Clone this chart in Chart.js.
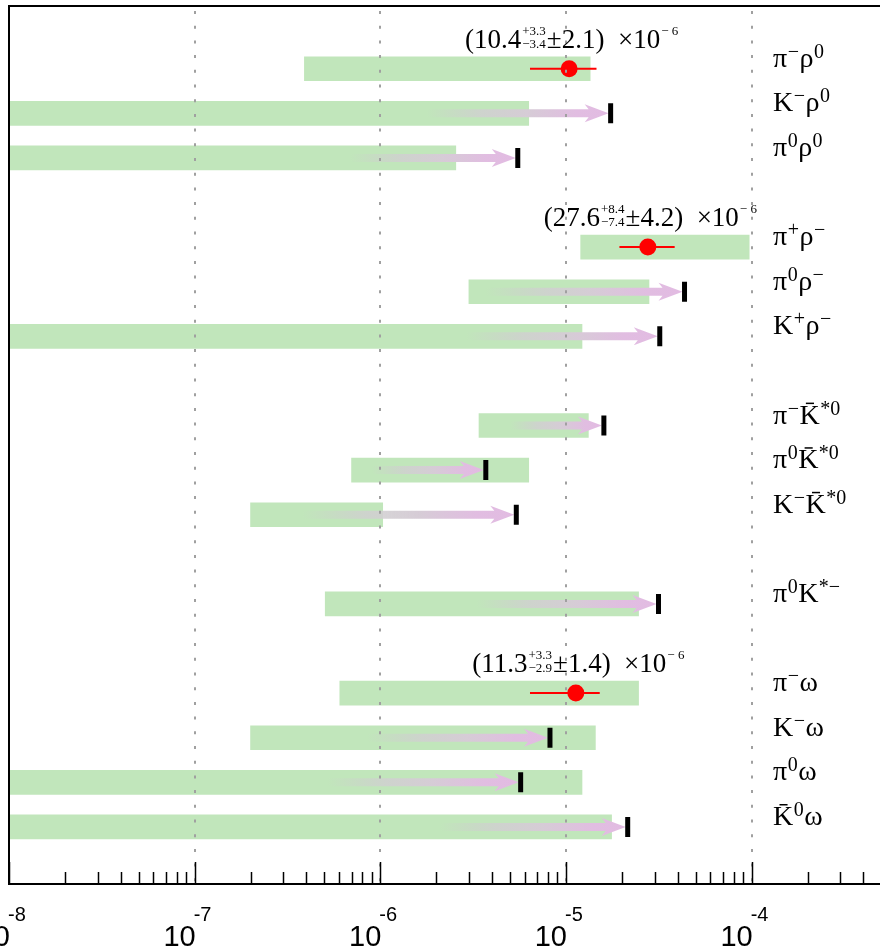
<!DOCTYPE html>
<html>
<head>
<meta charset="utf-8">
<script src="https://cdn.jsdelivr.net/npm/chart.js@4.4.1/dist/chart.umd.min.js"></script>
<style>
  html, body { margin: 0; padding: 0; background: #fff; overflow: hidden; width: 880px; height: 949px; }
  #wrap { position: absolute; left: -40px; top: 0; width: 1020px; height: 949px; }
</style>
</head>
<body>
<div id="wrap"><canvas id="c" width="1020" height="949"></canvas></div>
<script>
// Decay modes, one per row; the row number counts from the top (empty rows separate the groups)
const decays = [
  "π^{−}ρ^{0}", "K^{−}ρ^{0}", "π^{0}ρ^{0}",
  "π^{+}ρ^{−}", "π^{0}ρ^{−}", "K^{+}ρ^{−}",
  "π^{−}#bar{K}^{*0}", "π^{0}#bar{K}^{*0}", "K^{−}#bar{K}^{*0}",
  "π^{0}K^{*−}",
  "π^{−}ω", "K^{−}ω", "π^{0}ω", "#bar{K}^{0}ω"
];
const rows = [0, 1, 2, 4, 5, 6, 8, 9, 10, 12, 14, 15, 16, 17];

// Range of the predictions (green bands); 1e-9 means the band runs off the left edge
const bandLow  = [3.9e-7, 1e-9, 1e-9, 1.2e-5, 3.0e-6, 1e-9, 3.4e-6, 7.0e-7, 2.0e-7, 5.05e-7, 6.05e-7, 2.0e-7, 1e-9, 1e-9];
const bandHigh = [1.35e-5, 6.3e-6, 2.55e-6, 9.7e-5, 2.8e-5, 1.22e-5, 1.32e-5, 6.3e-6, 1.03e-6, 2.46e-5, 2.46e-5, 1.44e-5, 1.22e-5, 1.76e-5];

// 90% CL upper limits (null where the branching fraction is measured)
const upperLimit = [null, 1.74e-5, 5.5e-6, null, 4.35e-5, 3.2e-5, 1.6e-5, 3.7e-6, 5.4e-6, 3.15e-5, null, 8.2e-6, 5.7e-6, 2.15e-5];
// where each limit arrow starts to fade in
const arrowFrom  = [null, 1.78e-6, 6.9e-7, null, 3.7e-6, 2.9e-6, 5.0e-6, 9.0e-7, 3.8e-7, 3.3e-6, null, 8.5e-7, 5.2e-7, 2.1e-6];

// Measured branching fractions
const measRows  = [0, 4, 14];
const measValue = [10.4e-6, 27.6e-6, 11.3e-6];
const measLow   = [6.4e-6, 19.4e-6, 6.4e-6];
const measHigh  = [14.6e-6, 38.5e-6, 15.2e-6];
const measText  = [
  "(10.4^{+3.3}_{−3.4}±2.1)  ×10^{− 6}",
  "(27.6^{+8.4}_{−7.4}±4.2)  ×10^{− 6}",
  "(11.3^{+3.3}_{−2.9}±1.4)  ×10^{− 6}"
];

// Decades shown on the axis
const tickExponents = [-8, -7, -6, -5, -4, -3];

const SERIF = "'Liberation Serif', 'Times New Roman', serif";
const SANS = "'Liberation Sans', Arial, sans-serif";

// --- small rich-text helper: ^{..} superscript, _{..} subscript, #bar{..} overline ---
function parseRich(str) {
  const out = [];
  let i = 0, buf = '';
  const flush = () => { if (buf) { out.push({ t: 'txt', s: buf }); buf = ''; } };
  while (i < str.length) {
    const c = str[i];
    if ((c === '^' || c === '_') && str[i + 1] === '{') {
      flush();
      const j = str.indexOf('}', i);
      out.push({ t: c === '^' ? 'sup' : 'sub', s: str.slice(i + 2, j) });
      i = j + 1;
    } else if (str.startsWith('#bar{', i)) {
      flush();
      const j = str.indexOf('}', i);
      out.push({ t: 'bar', s: str.slice(i + 5, j) });
      i = j + 1;
    } else { buf += c; i++; }
  }
  flush();
  return out;
}

function layoutRich(ctx, str, st) {
  const items = parseRich(str);
  const pieces = [];
  let x = 0;
  for (let k = 0; k < items.length; k++) {
    const it = items[k];
    if (it.t === 'txt' || it.t === 'bar') {
      const font = st.size + 'px ' + st.family;
      ctx.font = font;
      const w = ctx.measureText(it.s).width;
      pieces.push({ s: it.s, x, dy: 0, font, w, bar: it.t === 'bar' });
      x += w;
    } else {
      const group = [it];
      const nx = items[k + 1];
      if (nx && (nx.t === 'sup' || nx.t === 'sub') && nx.t !== it.t) { group.push(nx); k++; }
      let gw = 0;
      for (const g of group) {
        const size = g.t === 'sup' ? st.supSize : st.subSize;
        const font = size + 'px ' + st.family;
        ctx.font = font;
        const w = ctx.measureText(g.s).width;
        pieces.push({ s: g.s, x: x + st.gap, dy: g.t === 'sup' ? -st.supRise : st.subDrop, font, w });
        gw = Math.max(gw, w);
      }
      x += gw + st.gap * 2;
    }
  }
  return { pieces, width: x };
}

function drawRich(ctx, str, x, y, st, align) {
  const L = layoutRich(ctx, str, st);
  const x0 = align === 'center' ? x - L.width / 2 : x;
  ctx.fillStyle = st.color || '#000';
  ctx.textBaseline = 'alphabetic';
  ctx.textAlign = 'left';
  for (const p of L.pieces) {
    ctx.font = p.font;
    ctx.fillText(p.s, x0 + p.x, y + p.dy);
    if (p.bar) {
      ctx.save();
      ctx.strokeStyle = st.color || '#000';
      ctx.lineWidth = 1.5;
      ctx.beginPath();
      const by = y - st.size * 0.72;
      ctx.moveTo(x0 + p.x + p.w * 0.32, by);
      ctx.lineTo(x0 + p.x + p.w * 0.72, by);
      ctx.stroke();
      ctx.restore();
    }
  }
}

const labelStyle = { family: SERIF, size: 28, supSize: 20, subSize: 20, supRise: 9, subDrop: 4, gap: 0.5 };
const noteStyle  = { family: SERIF, size: 27, supSize: 13, subSize: 13, supRise: 13, subDrop: 0, gap: 1 };

// Upper-limit arrow: fades in from the left, ends in a head touching the limit marker
function drawArrow(ctx, xTail, xTip, y) {
  const grad = ctx.createLinearGradient(xTail, 0, xTip, 0);
  grad.addColorStop(0, 'rgba(205,205,205,0)');
  grad.addColorStop(0.3, 'rgba(208,208,208,0.85)');
  grad.addColorStop(0.55, 'rgba(214,204,214,1)');
  grad.addColorStop(0.82, 'rgba(225,189,225,1)');
  grad.addColorStop(1, 'rgba(226,187,226,1)');
  const hl = 24, hw = 9, sw = 4;
  ctx.save();
  ctx.fillStyle = grad;
  ctx.beginPath();
  ctx.moveTo(xTail, y - sw);
  ctx.lineTo(xTip - hl + 4, y - sw);
  ctx.lineTo(xTip - hl, y - hw);
  ctx.lineTo(xTip, y);
  ctx.lineTo(xTip - hl, y + hw);
  ctx.lineTo(xTip - hl + 4, y + sw);
  ctx.lineTo(xTail, y + sw);
  ctx.closePath();
  ctx.fill();
  ctx.restore();
}

const decor = {
  id: 'decor',
  afterDatasetDraw(chart, args) {
    if (args.index !== 0) return;
    const { ctx, chartArea: a } = chart;
    const sx = chart.scales.x, sy = chart.scales.y;
    ctx.save();
    ctx.beginPath();
    ctx.rect(a.left, a.top, a.right - a.left, a.bottom - a.top);
    ctx.clip();
    rows.forEach((r, i) => {
      if (upperLimit[i] == null) return;
      const tip = sx.getPixelForValue(upperLimit[i]) - 2;
      const tail = sx.getPixelForValue(arrowFrom[i]);
      drawArrow(ctx, tail, tip, sy.getPixelForValue(r));
    });
    ctx.restore();
  },
  afterDraw(chart) {
    const { ctx, chartArea: a } = chart;
    const sx = chart.scales.x, sy = chart.scales.y;
    ctx.save();
    // frame
    ctx.strokeStyle = '#000';
    ctx.lineWidth = 2;
    ctx.beginPath();
    ctx.moveTo(a.right, a.top); ctx.lineTo(a.left, a.top);
    ctx.lineTo(a.left, a.bottom); ctx.lineTo(a.right, a.bottom);
    ctx.stroke();
    // axis ticks pointing into the plot
    ctx.lineWidth = 1.5;
    ctx.beginPath();
    for (let e = tickExponents[0]; e < tickExponents[tickExponents.length - 1]; e++) {
      for (let m = 1; m <= 9; m++) {
        const px = Math.round(sx.getPixelForValue(m * Math.pow(10, e))) + 0.5;
        const len = m === 1 ? 22 : 12;
        ctx.moveTo(px, a.bottom);
        ctx.lineTo(px, a.bottom - len);
      }
    }
    ctx.stroke();
    // tick labels 10^n
    ctx.fillStyle = '#000';
    ctx.textBaseline = 'alphabetic';
    tickExponents.forEach(e => {
      const px = sx.getPixelForValue(Math.pow(10, e));
      ctx.font = '29px ' + SANS;
      ctx.textAlign = 'right';
      ctx.fillText('10', px + 1, a.bottom + 62);
      ctx.font = '20px ' + SANS;
      ctx.textAlign = 'left';
      ctx.fillText(String(e), px - 1, a.bottom + 37);
    });
    // decay-mode labels
    rows.forEach((r, i) => {
      drawRich(ctx, decays[i], a.left + 764, sy.getPixelForValue(r) - 2, labelStyle, 'left');
    });
    // measured values, centred just above their points
    measRows.forEach((r, k) => {
      drawRich(ctx, measText[k], sx.getPixelForValue(measValue[k]) + 3, sy.getPixelForValue(r) - 21, noteStyle, 'center');
    });
    ctx.restore();
  }
};

const errorBars = measRows.map((r, k) => ({
  type: 'line',
  data: [{ x: measLow[k], y: r }, { x: measHigh[k], y: r }],
  borderColor: '#ff0000',
  borderWidth: 2,
  pointRadius: 0,
  order: 3
}));

new Chart(document.getElementById('c'), {
  type: 'bar',
  data: {
    datasets: [
      {
        type: 'bar',
        indexAxis: 'y',
        data: rows.map((r, i) => ({ x: [bandLow[i], bandHigh[i]], y: r })),
        backgroundColor: '#c1e6bb',
        borderWidth: 0,
        barThickness: 24,
        order: 10
      },
      {
        type: 'scatter',
        data: rows.map((r, i) => upperLimit[i] == null ? null : { x: upperLimit[i], y: r }).filter(Boolean),
        pointStyle: 'line',
        rotation: 90,
        radius: 10,
        borderWidth: 5,
        borderColor: '#000',
        order: 5
      },
      ...errorBars,
      {
        type: 'scatter',
        data: measRows.map((r, k) => ({ x: measValue[k], y: r })),
        pointStyle: 'circle',
        radius: 8.5,
        backgroundColor: '#ff0000',
        borderWidth: 0,
        order: 1
      }
    ]
  },
  options: {
    responsive: false,
    animation: false,
    events: [],
    devicePixelRatio: 1,
    layout: { autoPadding: false, padding: { left: 49, right: 42.7, top: 6, bottom: 65 } },
    plugins: { legend: { display: false }, tooltip: { enabled: false } },
    scales: {
      x: {
        type: 'logarithmic',
        min: 1e-8,
        max: 1e-3,
        offset: false,
        afterBuildTicks: s => { s.ticks = tickExponents.map(e => ({ value: Math.pow(10, e) })); },
        afterFit: s => { s.height = 0; },
        ticks: { display: false },
        grid: {
          z: 1,
          offset: false,
          drawTicks: false,
          lineWidth: 2,
          color: c => {
            const v = c.tick ? c.tick.value : 0;
            return (v > 1.5e-8 && v < 0.5e-3) ? '#a0a0a0' : 'rgba(0,0,0,0)';
          }
        },
        border: { display: false, dash: [3, 11.7], dashOffset: 9.7 }
      },
      y: {
        type: 'linear',
        reverse: true,
        offset: false,
        min: -1.406,
        max: 18.28,
        display: false
      }
    }
  },
  plugins: [decor]
});
</script>
</body>
</html>
